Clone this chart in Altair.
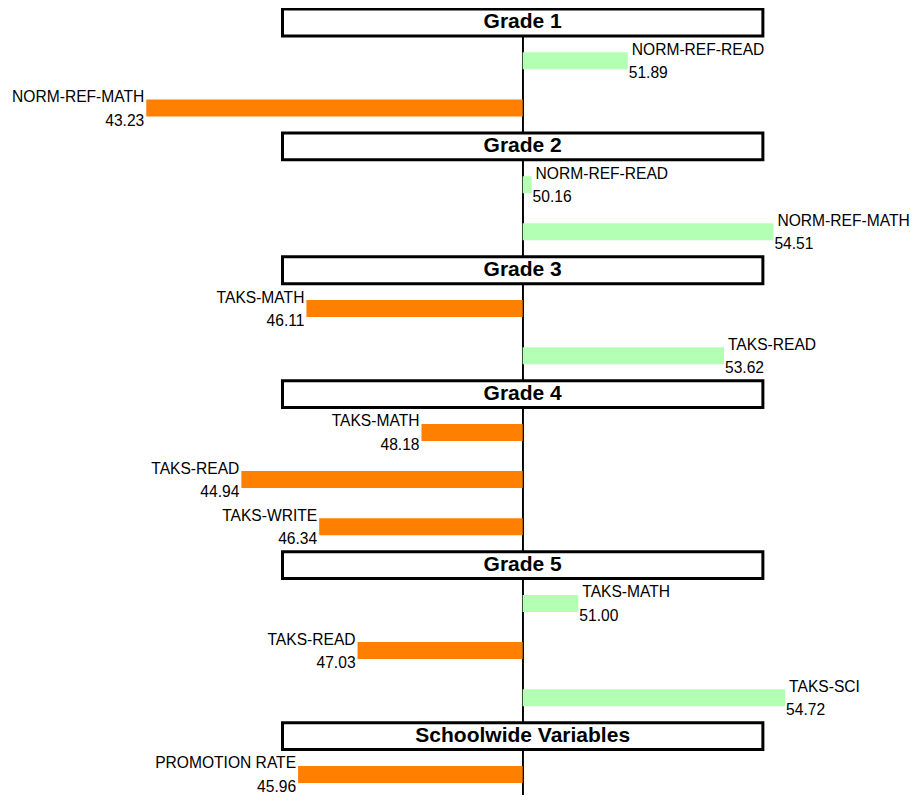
import altair as alt
import pandas as pd

# ---- data ----
groups = ["Grade 1", "Grade 2", "Grade 3", "Grade 4", "Grade 5", "Schoolwide Variables"]
g1_measures = ["NORM-REF-READ", "NORM-REF-MATH"]
g1_values = [51.89, 43.23]
g2_measures = ["NORM-REF-READ", "NORM-REF-MATH"]
g2_values = [50.16, 54.51]
g3_measures = ["TAKS-MATH", "TAKS-READ"]
g3_values = [46.11, 53.62]
g4_measures = ["TAKS-MATH", "TAKS-READ", "TAKS-WRITE"]
g4_values = [48.18, 44.94, 46.34]
g5_measures = ["TAKS-MATH", "TAKS-READ", "TAKS-SCI"]
g5_values = [51.00, 47.03, 54.72]
sw_measures = ["PROMOTION RATE"]
sw_values = [45.96]

measures = [g1_measures, g2_measures, g3_measures, g4_measures, g5_measures, sw_measures]
values = [g1_values, g2_values, g3_values, g4_values, g5_values, sw_values]

BASE = 50.0
# layout slots (row units)
HEADER_SLOT = 30.0
BAR_SLOT = 47.8
HEADER_HALF = 13.6
BOX_HALF_W = 4.32

head_rows = []
bar_rows = []
pos = 0.0
for g, ms, vs in zip(groups, measures, values):
    c = pos + HEADER_SLOT / 2
    head_rows.append({"group": g, "yc": c, "y1": c - HEADER_HALF, "y2": c + HEADER_HALF,
                      "x1": BASE - BOX_HALF_W, "x2": BASE + BOX_HALF_W})
    pos += HEADER_SLOT
    for m, v in zip(ms, vs):
        bar_rows.append({"group": g, "measure": m, "value": v, "base": BASE,
                         "yc": pos + BAR_SLOT / 2, "label": f"{v:.2f}"})
        pos += BAR_SLOT
TOTAL = pos

heads = pd.DataFrame(head_rows)
bars = pd.DataFrame(bar_rows)

xs = alt.Scale(domain=[40.743, 56.966], nice=False, zero=False, padding=0)
ys = alt.Scale(domain=[0.3, 798.3], nice=False, zero=False, reverse=True, padding=0)
FONT = "Liberation Sans"
FS = 15.6

rule = alt.Chart(bars).mark_rule(color="black", strokeWidth=1).encode(
    x=alt.datum(BASE, scale=xs, axis=None)
)

bar = alt.Chart(bars).mark_bar(size=17, orient="horizontal").encode(
    x=alt.X("value:Q", scale=xs, axis=None),
    x2="base:Q",
    y=alt.Y("yc:Q", scale=ys, axis=None),
    color=alt.condition(alt.datum.value > BASE, alt.value("#B3FFB3"), alt.value("#FF8000")),
)

box = alt.Chart(heads).mark_rect(fill="white", stroke="black", strokeWidth=3).encode(
    x=alt.X("x1:Q", scale=xs, axis=None),
    x2="x2:Q",
    y=alt.Y("y1:Q", scale=ys, axis=None),
    y2="y2:Q",
)

head_text = alt.Chart(heads).mark_text(
    font=FONT, fontSize=21, fontWeight="bold", color="black", baseline="middle", align="center"
).encode(
    x=alt.datum(BASE, scale=xs, axis=None),
    y=alt.Y("yc:Q", scale=ys, axis=None),
    text="group:N",
)

pos_bars = alt.Chart(bars).transform_filter(alt.datum.value > BASE)
neg_bars = alt.Chart(bars).transform_filter(alt.datum.value <= BASE)

pos_name = pos_bars.mark_text(font=FONT, fontSize=FS, color="black", align="left",
                              baseline="alphabetic", dx=4, dy=-6).encode(
    x=alt.X("value:Q", scale=xs, axis=None), y=alt.Y("yc:Q", scale=ys, axis=None), text="measure:N")
pos_val = pos_bars.mark_text(font=FONT, fontSize=FS, color="black", align="left",
                             baseline="alphabetic", dx=1, dy=17.5).encode(
    x=alt.X("value:Q", scale=xs, axis=None), y=alt.Y("yc:Q", scale=ys, axis=None), text="label:N")
neg_name = neg_bars.mark_text(font=FONT, fontSize=FS, color="black", align="right",
                              baseline="alphabetic", dx=-2, dy=-6).encode(
    x=alt.X("value:Q", scale=xs, axis=None), y=alt.Y("yc:Q", scale=ys, axis=None), text="measure:N")
neg_val = neg_bars.mark_text(font=FONT, fontSize=FS, color="black", align="right",
                             baseline="alphabetic", dx=-2, dy=17.5).encode(
    x=alt.X("value:Q", scale=xs, axis=None), y=alt.Y("yc:Q", scale=ys, axis=None), text="label:N")

chart = alt.layer(rule, bar, box, head_text, pos_name, pos_val, neg_name, neg_val).properties(
    width=902, height=787, padding=0, autosize=alt.AutoSizeParams(type="none"),
    background="white",
).configure_view(stroke=None)

chart.save("out.html", embed_options={"renderer": "svg", "actions": False})
